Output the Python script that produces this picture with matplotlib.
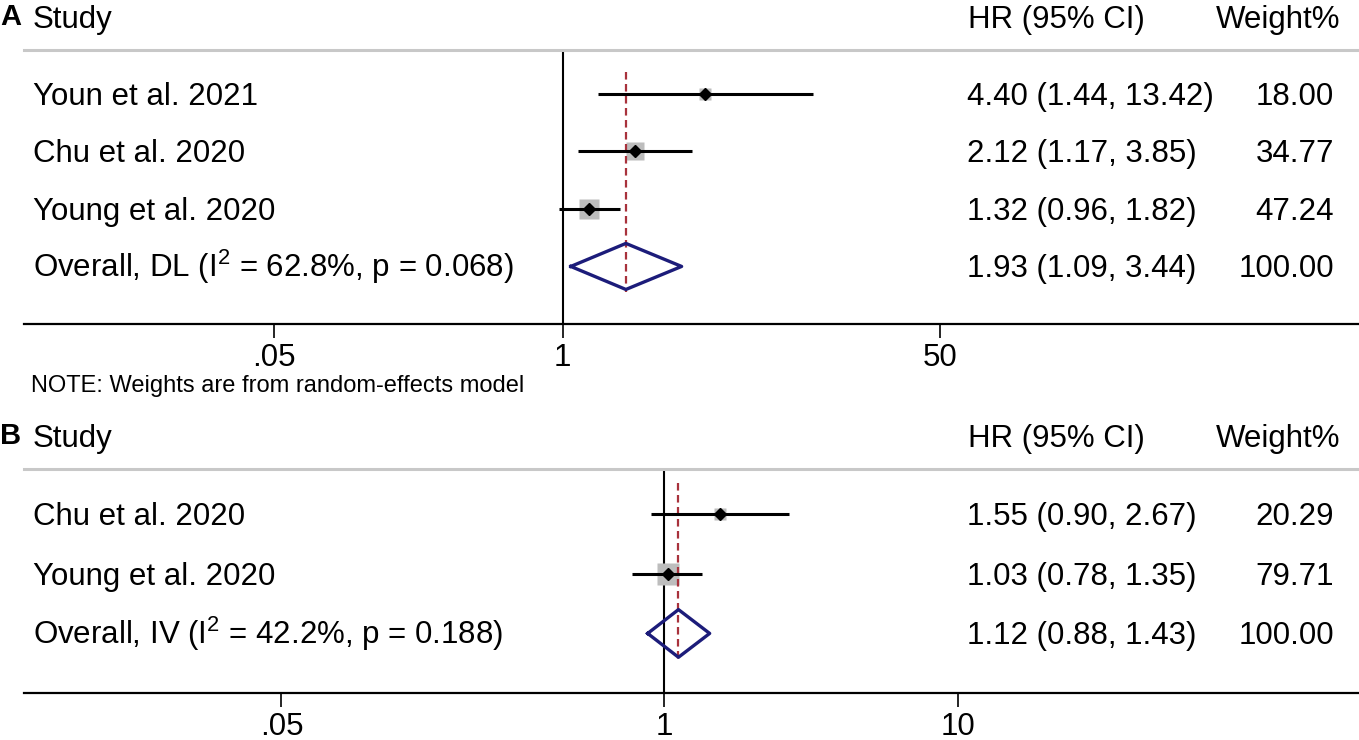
import matplotlib
matplotlib.use("Agg")
import matplotlib.pyplot as plt
import numpy as np
from matplotlib.transforms import offset_copy

plt.rcParams['font.family'] = 'Liberation Sans'
plt.rcParams['mathtext.fontset'] = 'custom'
plt.rcParams['mathtext.rm'] = 'Liberation Sans'
plt.rcParams['mathtext.it'] = 'Liberation Sans:italic'

# Panel A data
studies_a = ["Youn et al. 2021", "Chu et al. 2020", "Young et al. 2020"]
hr_a = [4.40, 2.12, 1.32]
lo_a = [1.44, 1.17, 0.96]
hi_a = [13.42, 3.85, 1.82]
w_a = [18.00, 34.77, 47.24]
overall_a = [1.93, 1.09, 3.44]
overall_label_a = "Overall, DL (I$^{2}$ = 62.8%, p = 0.068)"
ticks_a = [0.05, 1, 50]
ticklabels_a = [".05", "1", "50"]

# Panel B data
studies_b = ["Chu et al. 2020", "Young et al. 2020"]
hr_b = [1.55, 1.03]
lo_b = [0.90, 0.78]
hi_b = [2.67, 1.35]
w_b = [20.29, 79.71]
overall_b = [1.12, 0.88, 1.43]
overall_label_b = "Overall, IV (I$^{2}$ = 42.2%, p = 0.188)"
ticks_b = [0.05, 1, 10]
ticklabels_b = [".05", "1", "10"]

W, H = 1359, 740
fig = plt.figure(figsize=(W / 100, H / 100), dpi=100)


def fx(px):
    return px / W


def fy(py):
    return 1 - py / H


FS = 22.5
NAVY = '#1c1c7a'
RED = '#a8323c'
GREY_BOX = '#bdbdbd'


def panel(top, bottom, one_px, px_dec, studies, hr, lo, hi, w, ov, ov_label,
          ticks, ticklabels, box_k, dash, letter):
    left = 24
    ax = fig.add_axes([fx(left), fy(bottom), 1 - fx(left), (bottom - top) / H])
    n = len(studies)
    y = np.arange(n)
    ax.set_xscale('log')
    ax.set_xlim(10 ** ((left - one_px) / px_dec), 10 ** ((W - one_px) / px_dec))
    ax.set_ylim(n + 1, -0.76)

    ax.axvline(1, color='black', lw=1.5, zorder=1)
    for yi, h, wi in zip(y, hr, w):
        ax.plot(h, yi, 's', ms=box_k * np.sqrt(wi) * 0.72, color=GREY_BOX,
                mec='none', zorder=2)
    ax.vlines(ov[0], dash[0], dash[1], colors=RED, linestyles=(0, (3.4, 2.0)),
              lw=1.6, zorder=2.5)
    ax.hlines(y, lo, hi, color='black', lw=2.2, zorder=3)
    ax.plot(hr, y, 'D', ms=6, color='black', zorder=4)
    ax.plot([ov[1], ov[0], ov[2], ov[0], ov[1]], [n, n - 0.4, n, n + 0.4, n],
            color=NAVY, lw=2.4, zorder=4)

    for s in ['left', 'right']:
        ax.spines[s].set_visible(False)
    ax.spines['top'].set_color('#c8c8c8')
    ax.spines['top'].set_linewidth(2.2)
    ax.spines['bottom'].set_linewidth(1.6)
    ax.set_yticks([])
    ax.set_xticks(ticks, ticklabels)
    ax.minorticks_off()
    ax.tick_params(axis='x', direction='out', length=10, width=1.2,
                   labelsize=FS, pad=4)

    # text columns
    tr = offset_copy(ax.get_yaxis_transform(), fig=fig, y=-7.9, units='points')
    col_name = (33 - left) / (W - left)
    col_hr = (967 - left) / (W - left)
    col_w = (1334 - left) / (W - left)
    labels = studies + [ov_label]
    hrs = hr + [ov[0]]
    los = lo + [ov[1]]
    his = hi + [ov[2]]
    ws = w + [100.0]
    for i in range(n + 1):
        ax.text(col_name, i, labels[i], transform=tr, fontsize=FS, va='baseline')
        ax.text(col_hr, i, f"{hrs[i]:.2f} ({los[i]:.2f}, {his[i]:.2f})",
                transform=tr, fontsize=FS, va='baseline')
        ax.text(col_w, i, f"{ws[i]:.2f}", transform=tr, fontsize=FS,
                va='baseline', ha='right')

    # header
    base = top - 22
    fig.text(0, fy(base - 3), letter, fontsize=21, weight='bold', va='baseline')
    fig.text(fx(33), fy(base), "Study", fontsize=FS, va='baseline')
    fig.text(fx(968), fy(base), "HR (95% CI)", fontsize=FS, va='baseline')
    fig.text(fx(1340), fy(base), "Weight%", fontsize=FS, va='baseline', ha='right')
    return ax


panel(50, 324, 562.5, 222, studies_a, hr_a, lo_a, hi_a, w_a, overall_a,
      overall_label_a, ticks_a, ticklabels_a, 2.9, (-0.38, 3.45), "A")
panel(469, 693, 664, 294, studies_b, hr_b, lo_b, hi_b, w_b, overall_b,
      overall_label_b, ticks_b, ticklabels_b, 2.55, (-0.52, 2.5), "B")

fig.text(fx(31), fy(392), "NOTE: Weights are from random-effects model",
         fontsize=17, va='baseline')

fig.savefig("out.png", dpi=100)
